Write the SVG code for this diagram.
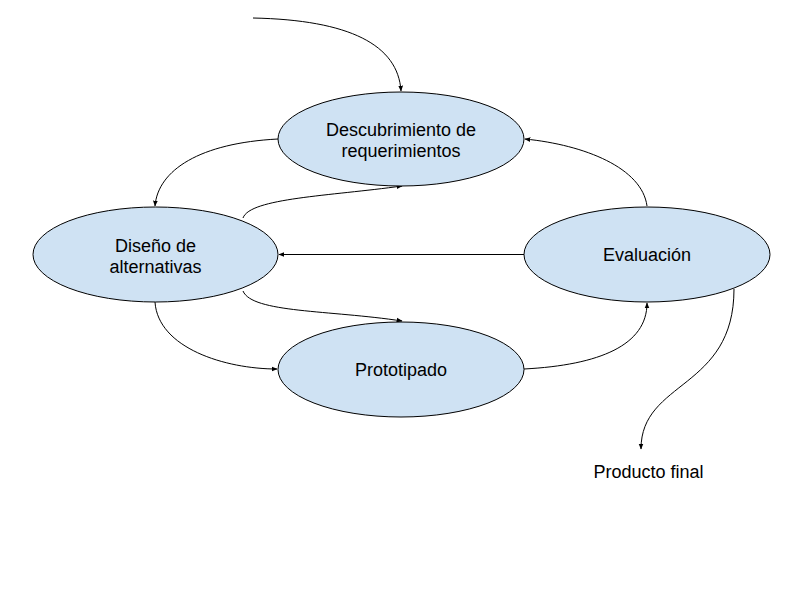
<svg xmlns="http://www.w3.org/2000/svg" width="800" height="600" viewBox="0 0 800 600">
<style>
.node{fill:#cfe2f3;stroke:#000;stroke-width:1}
.lbl{font-family:"Liberation Sans",Arial,sans-serif;font-size:18px;fill:#000;text-anchor:middle}
.edge{fill:none;stroke:#000;stroke-width:1}
</style>
<defs>
<marker id="arr" viewBox="0 0 10 10" refX="9" refY="5" markerWidth="6" markerHeight="6" markerUnits="userSpaceOnUse" orient="auto">
<path d="M0,1 L10,5 L0,9 z" fill="#000"/>
</marker>
</defs>
<rect width="800" height="600" fill="#fff"/>
<g id="connectors">
<path class="edge" marker-end="url(#arr)" d="M253,18 C350,20 398,45 401,91"/>
<path class="edge" marker-end="url(#arr)" d="M278,139 C200,143 158,170 155,206"/>
<path class="edge" marker-end="url(#arr)" d="M243,218 C250,198 330,196 402,186"/>
<path class="edge" marker-end="url(#arr)" d="M524,254.5 L279,254.5"/>
<path class="edge" marker-end="url(#arr)" d="M243,291 C252,313 330,310 402,321"/>
<path class="edge" marker-end="url(#arr)" d="M155,302 C158,348 225,369 277,369"/>
<path class="edge" marker-end="url(#arr)" d="M524,369 C600,365 647,345 647,303"/>
<path class="edge" marker-end="url(#arr)" d="M647,206 C642,168 585,145 525,139"/>
<path class="edge" marker-end="url(#arr)" d="M734,289 C734,390 641,380 641,449"/>
</g>
<g id="descubrimiento">
<ellipse class="node" cx="401" cy="139" rx="123" ry="47"/>
<text class="lbl" x="401" y="136">Descubrimiento de</text>
<text class="lbl" x="401" y="157">requerimientos</text>
</g>
<g id="diseno">
<ellipse class="node" cx="155.5" cy="254.5" rx="122.5" ry="47.5"/>
<text class="lbl" x="155.5" y="251.5">Diseño de</text>
<text class="lbl" x="155.5" y="272.5">alternativas</text>
</g>
<g id="prototipado">
<ellipse class="node" cx="401" cy="369.5" rx="123" ry="47.5"/>
<text class="lbl" x="401" y="376">Prototipado</text>
</g>
<g id="evaluacion">
<ellipse class="node" cx="647" cy="254.5" rx="123" ry="47.5"/>
<text class="lbl" x="647" y="261">Evaluación</text>
</g>
<g id="producto">
<text class="lbl" x="648.5" y="477.5">Producto final</text>
</g>
</svg>
